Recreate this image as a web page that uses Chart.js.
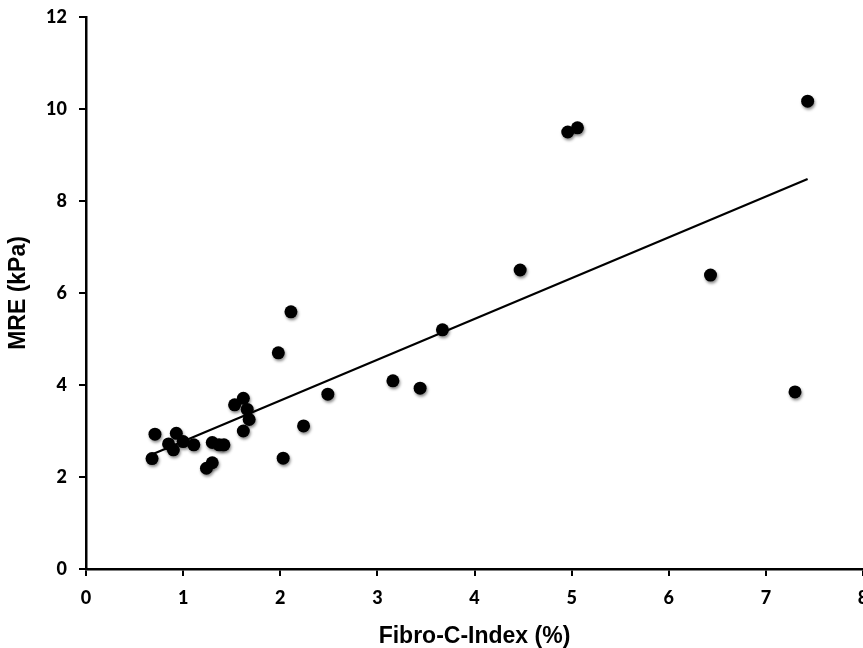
<!DOCTYPE html>
<html>
<head>
<meta charset="utf-8">
<script src="https://cdn.jsdelivr.net/npm/chart.js@4"></script>
<style>
  html, body { margin: 0; padding: 0; background: #fff; }
  #c { display: block; }
</style>
</head>
<body>
<canvas id="c" width="863" height="648"></canvas>
<script>
// Scatter data: Fibro-C-Index (%) vs MRE (kPa)
const fibroCIndex = [0.68, 0.71, 0.85, 0.90, 0.93, 1.00, 1.11, 1.30, 1.37, 1.42, 1.30, 1.24,
                     1.53, 1.62, 1.66, 1.68, 1.62, 2.03, 2.24, 1.98, 2.11, 2.49, 3.16, 3.44,
                     3.67, 4.47, 4.96, 5.06, 6.43, 7.30, 7.43];
const mreKPa      = [2.40, 2.93, 2.72, 2.59, 2.95, 2.77, 2.70, 2.75, 2.70, 2.70, 2.31, 2.19,
                     3.57, 3.71, 3.47, 3.25, 3.00, 2.41, 3.11, 4.70, 5.59, 3.80, 4.09, 3.93,
                     5.20, 6.50, 9.50, 9.59, 6.39, 3.85, 10.17];
// Regression line end points
const fitX = [0.69, 7.43];
const fitY = [2.50, 8.48];
// Ticks
const xTicks = [0, 1, 2, 3, 4, 5, 6, 7, 8];
const yTicks = [0, 2, 4, 6, 8, 10, 12];

const xTitle = 'Fibro-C-Index (%)';
const yTitle = 'MRE (kPa)';

const points = fibroCIndex.map((x, i) => ({ x: x, y: mreKPa[i] }));
const fitLine = fitX.map((x, i) => ({ x: x, y: fitY[i] }));

const shadowPlugin = {
  id: 'dotShadow',
  beforeDatasetDraw(chart, args) {
    if (args.index === 1) {
      const ctx = chart.ctx;
      ctx.save();
      ctx.shadowColor = 'rgba(0,0,0,0.45)';
      ctx.shadowBlur = 3;
      ctx.shadowOffsetX = 1;
      ctx.shadowOffsetY = 2;
    }
  },
  afterDatasetDraw(chart, args) {
    if (args.index === 1) chart.ctx.restore();
  }
};

const tickFont = { family: 'Lato, "Liberation Sans", sans-serif', size: 18, weight: 900 };
const titleFont = { family: '"Liberation Sans", Arial, sans-serif', size: 23, weight: 'bold', lineHeight: 1.0 };

new Chart(document.getElementById('c'), {
  type: 'scatter',
  data: {
    datasets: [
      {
        type: 'line',
        data: fitLine,
        borderColor: '#000',
        borderWidth: 2.2,
        pointRadius: 0,
        fill: false,
        tension: 0
      },
      {
        data: points,
        backgroundColor: '#000',
        borderColor: '#000',
        borderWidth: 0,
        pointRadius: 6.5,
        pointHoverRadius: 6.5
      }
    ]
  },
  options: {
    responsive: false,
    animation: false,
    events: [],
    layout: { autoPadding: false, padding: { top: 17, right: 0, bottom: 0, left: 0 } },
    plugins: { legend: { display: false }, tooltip: { enabled: false } },
    scales: {
      x: {
        type: 'linear',
        min: 0, max: 8,
        afterBuildTicks: s => { s.ticks = xTicks.map(v => ({ value: v })); },
        afterFit: s => { s.height = 79; s.paddingLeft = 0; s.paddingRight = 0; },
        border: { display: true, color: '#000', width: 2.5 },
        grid: { display: true, drawOnChartArea: false, drawTicks: true, tickLength: 7, color: '#000', lineWidth: 2 },
        ticks: { color: '#000', font: tickFont, padding: 11, maxRotation: 0, autoSkip: false },
        title: { display: true, text: xTitle, color: '#000', font: titleFont, padding: { top: 0, bottom: 0 } }
      },
      y: {
        type: 'linear',
        min: 0, max: 12,
        afterBuildTicks: s => { s.ticks = yTicks.map(v => ({ value: v })); },
        afterFit: s => { s.width = 86; s.paddingTop = 0; s.paddingBottom = 0; },
        border: { display: true, color: '#000', width: 2.5 },
        grid: { display: true, drawOnChartArea: false, drawTicks: true, tickLength: 7, color: '#000', lineWidth: 2 },
        ticks: { color: '#000', font: tickFont, padding: 12, autoSkip: false },
        title: { display: true, text: yTitle, color: '#000', font: titleFont, padding: { top: 7, bottom: 0 } }
      }
    }
  },
  plugins: [shadowPlugin]
});
</script>
</body>
</html>
